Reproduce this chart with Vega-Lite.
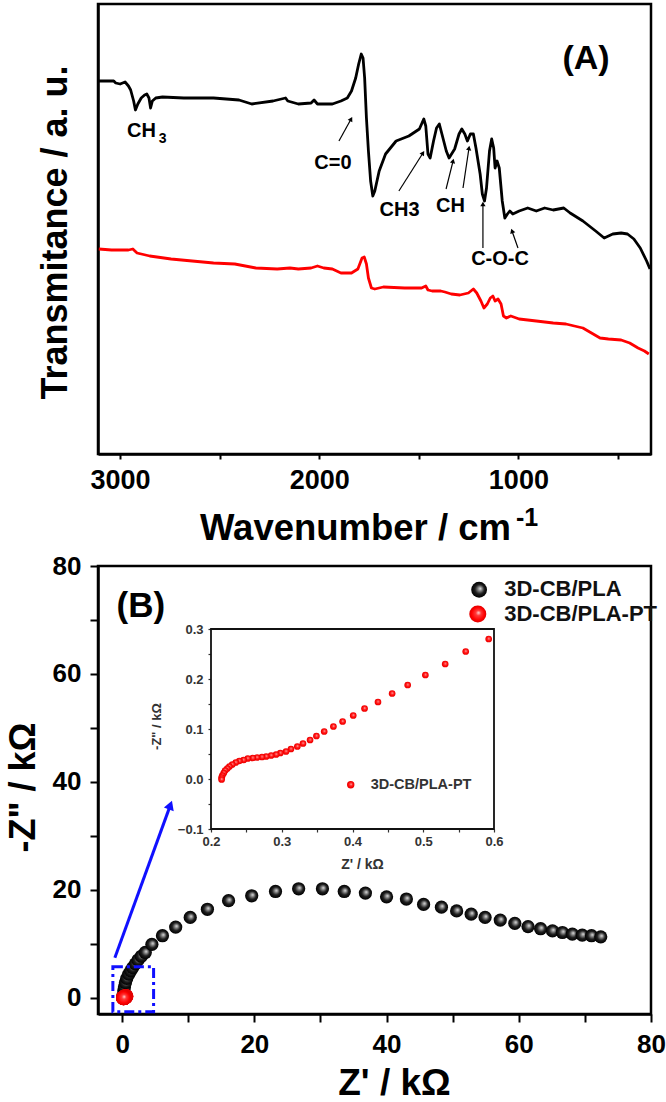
{
"$schema": "https://vega.github.io/schema/vega-lite/v6.json",
"padding": {"left": 3, "top": 2, "right": 0, "bottom": 0},
"bounds": "flush",
"spacing": 112,
"config": {
  "font": "Liberation Sans",
  "view": {"stroke": "#000", "strokeWidth": 2.5},
  "axis": {"grid": false, "labelFont": "Liberation Sans", "titleFont": "Liberation Sans", "labelFontWeight": "bold", "titleFontWeight": "bold", "labelColor": "#000", "titleColor": "#000", "domainColor": "#000", "tickColor": "#000", "domainWidth": 2.5, "tickWidth": 2, "labelFlush": false, "labelOverlap": false},
  "text": {"font": "Liberation Sans", "fontWeight": "bold"}
},
"datasets": {
  "ftir": [
    {"wn":3107,"t":373,"s":"3D-CB/PLA"},{"wn":3032,"t":373,"s":"3D-CB/PLA"},{"wn":3022,"t":371,"s":"3D-CB/PLA"},{"wn":3000,"t":370,"s":"3D-CB/PLA"},{"wn":2975,"t":372,"s":"3D-CB/PLA"},{"wn":2958,"t":368,"s":"3D-CB/PLA"},{"wn":2947,"t":364,"s":"3D-CB/PLA"},{"wn":2932,"t":353,"s":"3D-CB/PLA"},{"wn":2923,"t":344,"s":"3D-CB/PLA"},{"wn":2911,"t":350,"s":"3D-CB/PLA"},{"wn":2894,"t":356,"s":"3D-CB/PLA"},{"wn":2877,"t":359,"s":"3D-CB/PLA"},{"wn":2866,"t":360,"s":"3D-CB/PLA"},{"wn":2855,"t":356,"s":"3D-CB/PLA"},{"wn":2847,"t":346,"s":"3D-CB/PLA"},{"wn":2838,"t":353,"s":"3D-CB/PLA"},{"wn":2821,"t":356,"s":"3D-CB/PLA"},{"wn":2787,"t":357,"s":"3D-CB/PLA"},{"wn":2680,"t":356,"s":"3D-CB/PLA"},{"wn":2531,"t":356,"s":"3D-CB/PLA"},{"wn":2403,"t":354,"s":"3D-CB/PLA"},{"wn":2339,"t":350,"s":"3D-CB/PLA"},{"wn":2232,"t":353,"s":"3D-CB/PLA"},{"wn":2169,"t":356,"s":"3D-CB/PLA"},{"wn":2158,"t":353,"s":"3D-CB/PLA"},{"wn":2105,"t":350,"s":"3D-CB/PLA"},{"wn":2041,"t":351,"s":"3D-CB/PLA"},{"wn":2026,"t":354,"s":"3D-CB/PLA"},{"wn":2009,"t":350,"s":"3D-CB/PLA"},{"wn":1934,"t":350,"s":"3D-CB/PLA"},{"wn":1891,"t":353,"s":"3D-CB/PLA"},{"wn":1859,"t":356,"s":"3D-CB/PLA"},{"wn":1838,"t":363,"s":"3D-CB/PLA"},{"wn":1817,"t":376,"s":"3D-CB/PLA"},{"wn":1802,"t":390,"s":"3D-CB/PLA"},{"wn":1789,"t":400,"s":"3D-CB/PLA"},{"wn":1780,"t":396,"s":"3D-CB/PLA"},{"wn":1772,"t":376,"s":"3D-CB/PLA"},{"wn":1763,"t":336,"s":"3D-CB/PLA"},{"wn":1753,"t":303,"s":"3D-CB/PLA"},{"wn":1742,"t":273,"s":"3D-CB/PLA"},{"wn":1731,"t":258,"s":"3D-CB/PLA"},{"wn":1721,"t":263,"s":"3D-CB/PLA"},{"wn":1699,"t":283,"s":"3D-CB/PLA"},{"wn":1667,"t":300,"s":"3D-CB/PLA"},{"wn":1614,"t":313,"s":"3D-CB/PLA"},{"wn":1550,"t":318,"s":"3D-CB/PLA"},{"wn":1497,"t":325,"s":"3D-CB/PLA"},{"wn":1475,"t":335,"s":"3D-CB/PLA"},{"wn":1465,"t":328,"s":"3D-CB/PLA"},{"wn":1454,"t":300,"s":"3D-CB/PLA"},{"wn":1443,"t":296,"s":"3D-CB/PLA"},{"wn":1426,"t":313,"s":"3D-CB/PLA"},{"wn":1411,"t":326,"s":"3D-CB/PLA"},{"wn":1397,"t":330,"s":"3D-CB/PLA"},{"wn":1384,"t":320,"s":"3D-CB/PLA"},{"wn":1362,"t":303,"s":"3D-CB/PLA"},{"wn":1348,"t":296,"s":"3D-CB/PLA"},{"wn":1320,"t":305,"s":"3D-CB/PLA"},{"wn":1298,"t":320,"s":"3D-CB/PLA"},{"wn":1284,"t":325,"s":"3D-CB/PLA"},{"wn":1269,"t":320,"s":"3D-CB/PLA"},{"wn":1256,"t":313,"s":"3D-CB/PLA"},{"wn":1241,"t":320,"s":"3D-CB/PLA"},{"wn":1226,"t":320,"s":"3D-CB/PLA"},{"wn":1213,"t":306,"s":"3D-CB/PLA"},{"wn":1192,"t":280,"s":"3D-CB/PLA"},{"wn":1181,"t":260,"s":"3D-CB/PLA"},{"wn":1170,"t":253,"s":"3D-CB/PLA"},{"wn":1160,"t":266,"s":"3D-CB/PLA"},{"wn":1145,"t":303,"s":"3D-CB/PLA"},{"wn":1134,"t":315,"s":"3D-CB/PLA"},{"wn":1124,"t":306,"s":"3D-CB/PLA"},{"wn":1117,"t":286,"s":"3D-CB/PLA"},{"wn":1107,"t":293,"s":"3D-CB/PLA"},{"wn":1096,"t":286,"s":"3D-CB/PLA"},{"wn":1081,"t":253,"s":"3D-CB/PLA"},{"wn":1068,"t":236,"s":"3D-CB/PLA"},{"wn":1055,"t":240,"s":"3D-CB/PLA"},{"wn":1043,"t":243,"s":"3D-CB/PLA"},{"wn":1028,"t":240,"s":"3D-CB/PLA"},{"wn":996,"t":243,"s":"3D-CB/PLA"},{"wn":953,"t":246,"s":"3D-CB/PLA"},{"wn":910,"t":243,"s":"3D-CB/PLA"},{"wn":868,"t":246,"s":"3D-CB/PLA"},{"wn":825,"t":244,"s":"3D-CB/PLA"},{"wn":772,"t":246,"s":"3D-CB/PLA"},{"wn":740,"t":241,"s":"3D-CB/PLA"},{"wn":676,"t":233,"s":"3D-CB/PLA"},{"wn":612,"t":223,"s":"3D-CB/PLA"},{"wn":569,"t":216,"s":"3D-CB/PLA"},{"wn":526,"t":220,"s":"3D-CB/PLA"},{"wn":484,"t":221,"s":"3D-CB/PLA"},{"wn":452,"t":220,"s":"3D-CB/PLA"},{"wn":420,"t":215,"s":"3D-CB/PLA"},{"wn":388,"t":206,"s":"3D-CB/PLA"},{"wn":356,"t":193,"s":"3D-CB/PLA"},{"wn":339,"t":185,"s":"3D-CB/PLA"},
    {"wn":3107,"t":205,"s":"3D-CB/PLA-PT"},{"wn":3043,"t":204,"s":"3D-CB/PLA-PT"},{"wn":2958,"t":204,"s":"3D-CB/PLA-PT"},{"wn":2936,"t":205,"s":"3D-CB/PLA-PT"},{"wn":2915,"t":201,"s":"3D-CB/PLA-PT"},{"wn":2851,"t":198,"s":"3D-CB/PLA-PT"},{"wn":2744,"t":195,"s":"3D-CB/PLA-PT"},{"wn":2638,"t":193,"s":"3D-CB/PLA-PT"},{"wn":2531,"t":191,"s":"3D-CB/PLA-PT"},{"wn":2424,"t":190,"s":"3D-CB/PLA-PT"},{"wn":2318,"t":186,"s":"3D-CB/PLA-PT"},{"wn":2211,"t":185,"s":"3D-CB/PLA-PT"},{"wn":2147,"t":186,"s":"3D-CB/PLA-PT"},{"wn":2105,"t":185,"s":"3D-CB/PLA-PT"},{"wn":2041,"t":186,"s":"3D-CB/PLA-PT"},{"wn":2009,"t":188,"s":"3D-CB/PLA-PT"},{"wn":1977,"t":186,"s":"3D-CB/PLA-PT"},{"wn":1934,"t":185,"s":"3D-CB/PLA-PT"},{"wn":1891,"t":181,"s":"3D-CB/PLA-PT"},{"wn":1838,"t":181,"s":"3D-CB/PLA-PT"},{"wn":1806,"t":185,"s":"3D-CB/PLA-PT"},{"wn":1785,"t":196,"s":"3D-CB/PLA-PT"},{"wn":1774,"t":197,"s":"3D-CB/PLA-PT"},{"wn":1763,"t":190,"s":"3D-CB/PLA-PT"},{"wn":1753,"t":176,"s":"3D-CB/PLA-PT"},{"wn":1738,"t":166,"s":"3D-CB/PLA-PT"},{"wn":1721,"t":165,"s":"3D-CB/PLA-PT"},{"wn":1678,"t":167,"s":"3D-CB/PLA-PT"},{"wn":1571,"t":166,"s":"3D-CB/PLA-PT"},{"wn":1486,"t":166,"s":"3D-CB/PLA-PT"},{"wn":1465,"t":168,"s":"3D-CB/PLA-PT"},{"wn":1454,"t":164,"s":"3D-CB/PLA-PT"},{"wn":1433,"t":163,"s":"3D-CB/PLA-PT"},{"wn":1390,"t":163,"s":"3D-CB/PLA-PT"},{"wn":1369,"t":162,"s":"3D-CB/PLA-PT"},{"wn":1337,"t":160,"s":"3D-CB/PLA-PT"},{"wn":1294,"t":159,"s":"3D-CB/PLA-PT"},{"wn":1251,"t":161,"s":"3D-CB/PLA-PT"},{"wn":1226,"t":165,"s":"3D-CB/PLA-PT"},{"wn":1209,"t":161,"s":"3D-CB/PLA-PT"},{"wn":1188,"t":153,"s":"3D-CB/PLA-PT"},{"wn":1173,"t":146,"s":"3D-CB/PLA-PT"},{"wn":1156,"t":150,"s":"3D-CB/PLA-PT"},{"wn":1141,"t":156,"s":"3D-CB/PLA-PT"},{"wn":1128,"t":158,"s":"3D-CB/PLA-PT"},{"wn":1117,"t":153,"s":"3D-CB/PLA-PT"},{"wn":1102,"t":155,"s":"3D-CB/PLA-PT"},{"wn":1087,"t":150,"s":"3D-CB/PLA-PT"},{"wn":1075,"t":138,"s":"3D-CB/PLA-PT"},{"wn":1060,"t":136,"s":"3D-CB/PLA-PT"},{"wn":1038,"t":138,"s":"3D-CB/PLA-PT"},{"wn":996,"t":135,"s":"3D-CB/PLA-PT"},{"wn":910,"t":133,"s":"3D-CB/PLA-PT"},{"wn":825,"t":131,"s":"3D-CB/PLA-PT"},{"wn":761,"t":130,"s":"3D-CB/PLA-PT"},{"wn":719,"t":128,"s":"3D-CB/PLA-PT"},{"wn":676,"t":126,"s":"3D-CB/PLA-PT"},{"wn":633,"t":121,"s":"3D-CB/PLA-PT"},{"wn":590,"t":116,"s":"3D-CB/PLA-PT"},{"wn":548,"t":115,"s":"3D-CB/PLA-PT"},{"wn":484,"t":114,"s":"3D-CB/PLA-PT"},{"wn":441,"t":111,"s":"3D-CB/PLA-PT"},{"wn":399,"t":106,"s":"3D-CB/PLA-PT"},{"wn":367,"t":103,"s":"3D-CB/PLA-PT"},{"wn":345,"t":100,"s":"3D-CB/PLA-PT"}
  ],
  "ftirLabels": [
    {"wn":2893,"t":323.5,"label":"CH"},
    {"wn":1931,"t":291.5,"label":"C=0"},
    {"wn":1597,"t":244.5,"label":"CH3"},
    {"wn":1341,"t":248.5,"label":"CH"},
    {"wn":1092,"t":195.5,"label":"C-O-C"}
  ],
  "ftirSub": [{"wn":2787,"t":315,"label":"3"}],
  "ftirPanel": [{"wn":660,"t":395,"label":"(A)"}],
  "ftirSup": [{"wn":1012,"t":-72,"label":"-1"}],
  "ftirArrows": [
    {"id":"a1","wn":1901,"t":313,"wn2":1840,"t2":335},
    {"id":"a2","wn":1600,"t":263,"wn2":1479,"t2":301},
    {"id":"a3","wn":1363,"t":265,"wn2":1328,"t2":293},
    {"id":"a4","wn":1278,"t":266,"wn2":1248,"t2":306},
    {"id":"a5","wn":1178,"t":206,"wn2":1178,"t2":250},
    {"id":"a6","wn":1002,"t":206,"wn2":1032,"t2":223}
  ],
  "eisPLA": [
    {"x":0.15,"y":0.5},{"x":0.25,"y":1.3},{"x":0.35,"y":2.0},{"x":0.5,"y":2.8},{"x":0.7,"y":3.6},{"x":1.0,"y":4.4},{"x":1.3,"y":5.0},{"x":1.6,"y":5.6},{"x":2.0,"y":6.3},{"x":2.4,"y":7.0},{"x":2.9,"y":7.7},{"x":3.5,"y":8.4},{"x":4.5,"y":9.9},{"x":6.1,"y":11.5},{"x":8.1,"y":13.1},{"x":10.3,"y":14.9},{"x":12.9,"y":16.4},{"x":16.1,"y":18.0},{"x":19.6,"y":18.9},{"x":23.2,"y":19.7},{"x":26.7,"y":20.2},{"x":30.3,"y":20.2},{"x":33.6,"y":19.7},{"x":36.8,"y":19.4},{"x":40.0,"y":18.7},{"x":43.0,"y":18.3},{"x":45.6,"y":17.3},{"x":48.3,"y":16.8},{"x":50.6,"y":16.1},{"x":52.8,"y":15.5},{"x":54.9,"y":14.9},{"x":57.2,"y":14.4},{"x":59.4,"y":13.8},{"x":61.4,"y":13.2},{"x":63.3,"y":12.8},{"x":65.1,"y":12.4},{"x":66.6,"y":12.1},{"x":68.1,"y":11.8},{"x":69.6,"y":11.6},{"x":71.0,"y":11.5},{"x":72.4,"y":11.3}
  ],
  "eisPT": [
    {"x":0.5925,"y":0.280},{"x":0.560,"y":0.255},{"x":0.531,"y":0.230},{"x":0.503,"y":0.208},{"x":0.478,"y":0.188},{"x":0.456,"y":0.171},{"x":0.436,"y":0.154},{"x":0.417,"y":0.141},{"x":0.401,"y":0.127},{"x":0.386,"y":0.115},{"x":0.373,"y":0.105},{"x":0.360,"y":0.095},{"x":0.349,"y":0.086},{"x":0.340,"y":0.078},{"x":0.330,"y":0.071},{"x":0.322,"y":0.065},{"x":0.313,"y":0.060},{"x":0.306,"y":0.055},{"x":0.298,"y":0.052},{"x":0.292,"y":0.049},{"x":0.285,"y":0.047},{"x":0.278,"y":0.045},{"x":0.272,"y":0.044},{"x":0.265,"y":0.043},{"x":0.259,"y":0.042},{"x":0.252,"y":0.041},{"x":0.246,"y":0.038},{"x":0.240,"y":0.036},{"x":0.235,"y":0.033},{"x":0.230,"y":0.029},{"x":0.226,"y":0.025},{"x":0.223,"y":0.021},{"x":0.220,"y":0.017},{"x":0.218,"y":0.012},{"x":0.216,"y":0.007},{"x":0.215,"y":0.003},{"x":0.215,"y":-0.001}
  ],
  "boxB": [{"x":-1.4,"x2":4.76,"y":-2.57,"y2":5.76}],
  "arrowB": [{"x":-1.1,"y":7.43,"x2":7.3,"y2":35.7}],
  "legendPts": [{"x":54.0,"y":75.6,"s":"PLA"},{"x":53.8,"y":71.1,"s":"PT"}],
  "legendText": [{"x":57.8,"y":75.7,"label":"3D-CB/PLA"},{"x":57.8,"y":71.1,"label":"3D-CB/PLA-PT"}],
  "panelB": [{"x":2.83,"y":72.6,"label":"(B)"}],
  "insetFrame": [{"x":0.2,"x2":0.6,"y":-0.1,"y2":0.3}],
  "insetLegPt": [{"x":0.3975,"y":-0.0114}],
  "insetLegText": [{"x":0.4258,"y":-0.0114,"label":"3D-CB/PLA-PT"}]
},
"vconcat": [
  {
    "width": 553, "height": 450,
    "layer": [
      {
        "data": {"name": "ftir"},
        "mark": {"type": "line", "strokeWidth": 2.8, "strokeJoin": "round"},
        "encoding": {
          "x": {"field": "wn", "type": "quantitative", "scale": {"domain": [334, 3111], "reverse": true, "nice": false, "zero": false},
                "axis": {"orient": "bottom", "values": [3000, 2500, 2000, 1500, 1000, 500], "format": "d", "labelExpr": "datum.value % 1000 === 0 ? datum.label : ''", "labelFontSize": 27, "labelPadding": 8, "tickSize": 5, "title": "Wavenumber / cm", "titleFontSize": 36.5, "titleX": 257, "titleY": 85, "titleBaseline": "alphabetic", "titleAlign": "center"}},
          "y": {"field": "t", "type": "quantitative", "scale": {"domain": [0, 450], "nice": false, "zero": false},
                "axis": {"orient": "left", "ticks": false, "labels": false, "title": "Transmitance / a. u.", "titleFontSize": 36, "titleX": -32, "titleY": 228, "titleBaseline": "alphabetic", "titleAlign": "center", "titleAngle": -90}},
          "color": {"field": "s", "type": "nominal", "scale": {"domain": ["3D-CB/PLA", "3D-CB/PLA-PT"], "range": ["#000000", "#ff0000"]}, "legend": null}
        }
      },
      {
        "data": {"name": "ftirArrows"},
        "mark": {"type": "rule", "strokeWidth": 1.2, "color": "#000"},
        "encoding": {"x": {"field": "wn", "type": "quantitative"}, "x2": {"field": "wn2"}, "y": {"field": "t", "type": "quantitative"}, "y2": {"field": "t2"}}
      },
      {"data": {"name": "ftirArrows"}, "transform": [{"filter": "datum.id === 'a1'"}], "mark": {"type": "point", "shape": "triangle-up", "filled": true, "color": "#000", "opacity": 1, "size": 28, "angle": 28.6}, "encoding": {"x": {"field": "wn2", "type": "quantitative"}, "y": {"field": "t2", "type": "quantitative"}}},
      {"data": {"name": "ftirArrows"}, "transform": [{"filter": "datum.id === 'a2'"}], "mark": {"type": "point", "shape": "triangle-up", "filled": true, "color": "#000", "opacity": 1, "size": 28, "angle": 32.3}, "encoding": {"x": {"field": "wn2", "type": "quantitative"}, "y": {"field": "t2", "type": "quantitative"}}},
      {"data": {"name": "ftirArrows"}, "transform": [{"filter": "datum.id === 'a3'"}], "mark": {"type": "point", "shape": "triangle-up", "filled": true, "color": "#000", "opacity": 1, "size": 28, "angle": 14}, "encoding": {"x": {"field": "wn2", "type": "quantitative"}, "y": {"field": "t2", "type": "quantitative"}}},
      {"data": {"name": "ftirArrows"}, "transform": [{"filter": "datum.id === 'a4'"}], "mark": {"type": "point", "shape": "triangle-up", "filled": true, "color": "#000", "opacity": 1, "size": 28, "angle": 8.5}, "encoding": {"x": {"field": "wn2", "type": "quantitative"}, "y": {"field": "t2", "type": "quantitative"}}},
      {"data": {"name": "ftirArrows"}, "transform": [{"filter": "datum.id === 'a5'"}], "mark": {"type": "point", "shape": "triangle-up", "filled": true, "color": "#000", "opacity": 1, "size": 28, "angle": 0}, "encoding": {"x": {"field": "wn2", "type": "quantitative"}, "y": {"field": "t2", "type": "quantitative"}}},
      {"data": {"name": "ftirArrows"}, "transform": [{"filter": "datum.id === 'a6'"}], "mark": {"type": "point", "shape": "triangle-up", "filled": true, "color": "#000", "opacity": 1, "size": 28, "angle": -19.4}, "encoding": {"x": {"field": "wn2", "type": "quantitative"}, "y": {"field": "t2", "type": "quantitative"}}},
      {
        "data": {"name": "ftirLabels"},
        "mark": {"type": "text", "fontSize": 20, "align": "center", "baseline": "middle", "color": "#000"},
        "encoding": {"x": {"field": "wn", "type": "quantitative"}, "y": {"field": "t", "type": "quantitative"}, "text": {"field": "label"}}
      },
      {
        "data": {"name": "ftirSub"},
        "mark": {"type": "text", "fontSize": 14, "align": "center", "baseline": "middle", "color": "#000"},
        "encoding": {"x": {"field": "wn", "type": "quantitative"}, "y": {"field": "t", "type": "quantitative"}, "text": {"field": "label"}}
      },
      {
        "data": {"name": "ftirPanel"},
        "mark": {"type": "text", "fontSize": 34, "align": "center", "baseline": "middle", "color": "#000"},
        "encoding": {"x": {"field": "wn", "type": "quantitative"}, "y": {"field": "t", "type": "quantitative"}, "text": {"field": "label"}}
      },
      {
        "data": {"name": "ftirSup"},
        "mark": {"type": "text", "fontSize": 25, "align": "left", "baseline": "alphabetic", "color": "#000"},
        "encoding": {"x": {"field": "wn", "type": "quantitative"}, "y": {"field": "t", "type": "quantitative"}, "text": {"field": "label"}}
      }
    ]
  },
  {
    "width": 553, "height": 448,
    "resolve": {"scale": {"x": "independent", "y": "independent"}, "axis": {"x": "independent", "y": "independent"}},
    "layer": [
      {
        "layer": [
          {
            "data": {"name": "eisPLA"},
            "mark": {"type": "point", "filled": true, "size": 175, "opacity": 1, "strokeWidth": 0,
                     "fill": {"gradient": "radial", "x1": 0.58, "y1": 0.42, "r1": 0, "x2": 0.5, "y2": 0.5, "r2": 0.5, "stops": [{"offset": 0, "color": "#e6e6e6"}, {"offset": 0.25, "color": "#8a8a8a"}, {"offset": 0.6, "color": "#1e1e1e"}, {"offset": 1, "color": "#000000"}]}},
            "encoding": {
              "x": {"field": "x", "type": "quantitative", "scale": {"domain": [-3.65, 80], "nice": false, "zero": false},
                    "axis": {"orient": "bottom", "values": [0, 10, 20, 30, 40, 50, 60, 70, 80], "labelExpr": "datum.value % 20 === 0 ? datum.label : ''", "labelFontSize": 26, "labelPadding": 9, "tickSize": 8, "title": "Z' / kΩ", "titleFontSize": 37, "titleX": 296, "titleY": 80, "titleBaseline": "alphabetic", "titleAlign": "center"}},
              "y": {"field": "y", "type": "quantitative", "scale": {"domain": [-3, 80], "nice": false, "zero": false},
                    "axis": {"orient": "left", "values": [0, 10, 20, 30, 40, 50, 60, 70, 80], "labelExpr": "datum.value % 20 === 0 ? datum.label : ''", "labelFontSize": 26, "labelPadding": 9, "tickSize": 8, "title": "-Z\" / kΩ", "titleFontSize": 36, "titleX": -64, "titleY": 221, "titleBaseline": "alphabetic", "titleAlign": "center", "titleAngle": -90}}
            }
          },
          {
            "data": {"name": "boxB"},
            "mark": {"type": "rect", "fill": null, "fillOpacity": 0, "stroke": "#1010ff", "strokeWidth": 3, "strokeDash": [10, 4, 3, 4]},
            "encoding": {"x": {"field": "x", "type": "quantitative"}, "x2": {"field": "x2"}, "y": {"field": "y", "type": "quantitative"}, "y2": {"field": "y2"}}
          },
          {
            "data": {"name": "arrowB"},
            "mark": {"type": "rule", "color": "#1010ff", "strokeWidth": 3},
            "encoding": {"x": {"field": "x", "type": "quantitative"}, "x2": {"field": "x2"}, "y": {"field": "y", "type": "quantitative"}, "y2": {"field": "y2"}}
          },
          {
            "data": {"name": "arrowB"},
            "mark": {"type": "point", "shape": "triangle-up", "filled": true, "color": "#1010ff", "opacity": 1, "size": 110, "angle": 20.4},
            "encoding": {"x": {"field": "x2", "type": "quantitative"}, "y": {"field": "y2", "type": "quantitative"}}
          },
          {
            "data": {"name": "eisPT"},
            "mark": {"type": "point", "filled": true, "size": 220, "opacity": 1, "strokeWidth": 0,
                     "fill": {"gradient": "radial", "x1": 0.55, "y1": 0.42, "r1": 0, "x2": 0.5, "y2": 0.5, "r2": 0.5, "stops": [{"offset": 0, "color": "#ffd6d6"}, {"offset": 0.3, "color": "#ff3a3a"}, {"offset": 0.75, "color": "#ff0000"}, {"offset": 1, "color": "#e00000"}]}},
            "encoding": {"x": {"field": "x", "type": "quantitative"}, "y": {"field": "y", "type": "quantitative"}}
          },
          {
            "data": {"name": "legendPts"},
            "transform": [{"filter": "datum.s === 'PLA'"}],
            "mark": {"type": "point", "filled": true, "size": 250, "opacity": 1, "strokeWidth": 0,
                     "fill": {"gradient": "radial", "x1": 0.58, "y1": 0.42, "r1": 0, "x2": 0.5, "y2": 0.5, "r2": 0.5, "stops": [{"offset": 0, "color": "#e6e6e6"}, {"offset": 0.25, "color": "#8a8a8a"}, {"offset": 0.6, "color": "#1e1e1e"}, {"offset": 1, "color": "#000000"}]}},
            "encoding": {"x": {"field": "x", "type": "quantitative"}, "y": {"field": "y", "type": "quantitative"}}
          },
          {
            "data": {"name": "legendPts"},
            "transform": [{"filter": "datum.s === 'PT'"}],
            "mark": {"type": "point", "filled": true, "size": 290, "opacity": 1, "strokeWidth": 0,
                     "fill": {"gradient": "radial", "x1": 0.55, "y1": 0.42, "r1": 0, "x2": 0.5, "y2": 0.5, "r2": 0.5, "stops": [{"offset": 0, "color": "#ffd6d6"}, {"offset": 0.3, "color": "#ff3a3a"}, {"offset": 0.75, "color": "#ff0000"}, {"offset": 1, "color": "#e00000"}]}},
            "encoding": {"x": {"field": "x", "type": "quantitative"}, "y": {"field": "y", "type": "quantitative"}}
          },
          {
            "data": {"name": "legendText"},
            "mark": {"type": "text", "fontSize": 22, "align": "left", "baseline": "middle", "color": "#111"},
            "encoding": {"x": {"field": "x", "type": "quantitative"}, "y": {"field": "y", "type": "quantitative"}, "text": {"field": "label"}}
          },
          {
            "data": {"name": "panelB"},
            "mark": {"type": "text", "fontSize": 35, "align": "center", "baseline": "middle", "color": "#000"},
            "encoding": {"x": {"field": "x", "type": "quantitative"}, "y": {"field": "y", "type": "quantitative"}, "text": {"field": "label"}}
          }
        ]
      },
      {
        "layer": [
          {
            "data": {"name": "insetFrame"},
            "mark": {"type": "rect", "fill": "#ffffff", "stroke": "#111", "strokeWidth": 1.8},
            "encoding": {
              "x": {"field": "x", "type": "quantitative", "scale": {"domain": [0.2, 0.6], "range": [113, 396], "nice": false, "zero": false},
                    "axis": {"orient": "bottom", "offset": -185, "domain": false, "values": [0.2, 0.25, 0.3, 0.35, 0.4, 0.45, 0.5, 0.55, 0.6], "labelExpr": "abs(datum.value*10 - round(datum.value*10)) < 0.001 ? format(datum.value, '.1f') : ''", "tickSize": 3, "tickWidth": 1.2, "tickColor": "#333", "labelFontSize": 13, "labelColor": "#333", "labelPadding": 3, "title": "Z' / kΩ", "titleFontSize": 14, "titleColor": "#333", "titleX": 264, "titleY": 35, "titleBaseline": "middle", "titleAlign": "center"}},
              "x2": {"field": "x2"},
              "y": {"field": "y", "type": "quantitative", "scale": {"domain": [-0.1, 0.3], "range": [263, 63], "nice": false, "zero": false},
                    "axis": {"orient": "left", "offset": -113, "domain": false, "values": [-0.1, -0.05, 0, 0.05, 0.1, 0.15, 0.2, 0.25, 0.3], "labelExpr": "abs(datum.value*10 - round(datum.value*10)) < 0.001 ? format(datum.value, '.1f') : ''", "tickSize": 3, "tickWidth": 1.2, "tickColor": "#333", "labelFontSize": 13, "labelColor": "#333", "labelPadding": 5, "title": "-Z\" / kΩ", "titleFontSize": 13, "titleColor": "#333", "titleX": -55, "titleY": 160, "titleBaseline": "middle", "titleAlign": "center", "titleAngle": -90}},
              "y2": {"field": "y2"}
            }
          },
          {
            "data": {"name": "eisPT"},
            "mark": {"type": "point", "filled": true, "size": 45, "opacity": 1, "strokeWidth": 0,
                     "fill": {"gradient": "radial", "x1": 0.55, "y1": 0.42, "r1": 0, "x2": 0.5, "y2": 0.5, "r2": 0.5, "stops": [{"offset": 0, "color": "#ffd6d6"}, {"offset": 0.3, "color": "#ff3a3a"}, {"offset": 0.75, "color": "#ff0000"}, {"offset": 1, "color": "#e00000"}]}},
            "encoding": {"x": {"field": "x", "type": "quantitative"}, "y": {"field": "y", "type": "quantitative"}}
          },
          {
            "data": {"name": "insetLegPt"},
            "mark": {"type": "point", "filled": true, "size": 55, "opacity": 1, "strokeWidth": 0,
                     "fill": {"gradient": "radial", "x1": 0.55, "y1": 0.42, "r1": 0, "x2": 0.5, "y2": 0.5, "r2": 0.5, "stops": [{"offset": 0, "color": "#ffd6d6"}, {"offset": 0.3, "color": "#ff3a3a"}, {"offset": 0.75, "color": "#ff0000"}, {"offset": 1, "color": "#e00000"}]}},
            "encoding": {"x": {"field": "x", "type": "quantitative"}, "y": {"field": "y", "type": "quantitative"}}
          },
          {
            "data": {"name": "insetLegText"},
            "mark": {"type": "text", "fontSize": 14.5, "align": "left", "baseline": "middle", "color": "#333"},
            "encoding": {"x": {"field": "x", "type": "quantitative"}, "y": {"field": "y", "type": "quantitative"}, "text": {"field": "label"}}
          }
        ]
      }
    ]
  }
]
}
